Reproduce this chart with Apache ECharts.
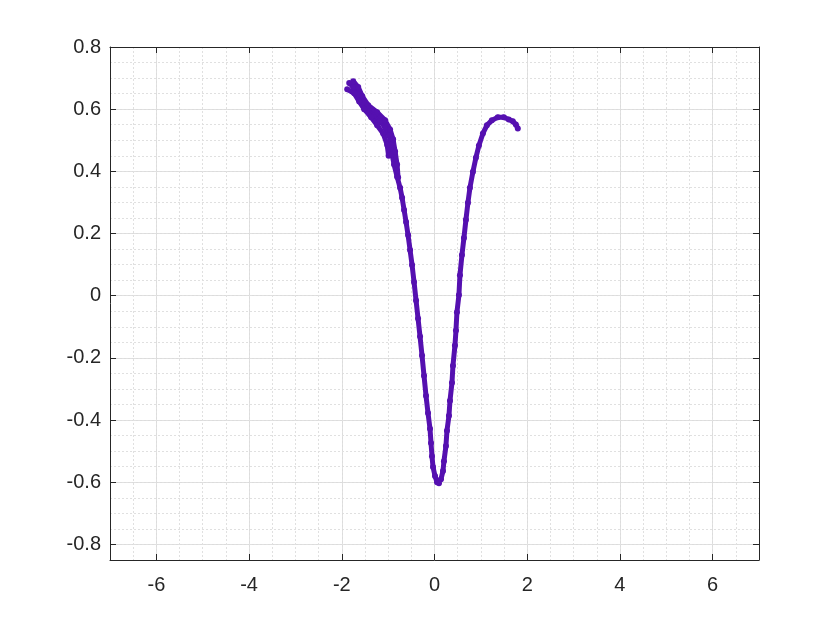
<!DOCTYPE html>
<html>
<head>
<meta charset="utf-8">
<script src="https://cdn.jsdelivr.net/npm/echarts@6/dist/echarts.min.js"></script>
<style>html,body{margin:0;padding:0;background:#fff}#c{width:840px;height:630px}</style>
</head>
<body>
<div id="c"></div>
<script>
// Tick labels
const xTicks = [-6, -4, -2, 0, 2, 4, 6];
const yTicks = [-0.8, -0.6, -0.4, -0.2, 0, 0.2, 0.4, 0.6, 0.8];

// Main curve (centre line)
const curveX = [-1.840,-1.754,-1.646,-1.538,-1.431,-1.302,-1.173,-1.065,-0.979,-0.936,-0.915,-0.872,-0.807,-0.742,-0.699,-0.656,-0.613,-0.570,-0.527,-0.484,-0.441,-0.398,-0.355,-0.312,-0.269,-0.226,-0.183,-0.140,-0.097,-0.075,-0.054,-0.032,0.011,0.054,0.097,
  0.140,0.183,0.204,0.247,0.269,0.312,0.334,0.377,0.398,0.441,0.463,0.484,0.527,0.549,0.592,0.635,0.678,0.721,0.764,0.829,0.893,0.958,1.044,1.130,1.237,1.366,1.495,1.603,1.689,1.754,1.797];
const curveY = [0.684,0.671,0.648,0.622,0.600,0.580,0.561,0.541,0.515,0.486,0.454,0.422,0.383,0.347,0.315,0.276,0.237,0.195,0.147,0.099,0.044,-0.015,-0.073,-0.131,-0.192,-0.257,-0.322,-0.377,-0.428,-0.474,-0.516,-0.551,-0.580,-0.600,-0.603,
  -0.590,-0.564,-0.532,-0.483,-0.434,-0.386,-0.338,-0.280,-0.225,-0.160,-0.112,-0.053,0.002,0.066,0.131,0.186,0.244,0.299,0.347,0.399,0.444,0.483,0.522,0.548,0.564,0.574,0.574,0.567,0.561,0.551,0.538];

// Upper and lower edges of the wide band (upper-left part)
const upperX = [-1.754,-1.646,-1.560,-1.431,-1.237,-1.065,-0.958,-0.893,-0.850,-0.807,-0.785];
const upperY = [0.690,0.671,0.642,0.613,0.590,0.564,0.535,0.503,0.464,0.422,0.380];
const lowerX = [-1.883,-1.732,-1.625,-1.517,-1.366,-1.237,-1.108,-1.022,-0.990];
const lowerY = [0.664,0.651,0.625,0.600,0.574,0.548,0.522,0.486,0.450];

const purple = '#5510b0';
const zip = (a, b) => a.map((v, i) => [v, b[i]]);

const font = '"Liberation Sans", Arial, sans-serif';
const chart = echarts.init(document.getElementById('c'), null, {renderer: 'canvas'});
const grid = {left: 110, right: 81, top: 47, bottom: 70, containLabel: false};

const lineSeries = (data) => ({
  type: 'line', data: data, xAxisIndex: 0, yAxisIndex: 0,
  symbol: 'circle', symbolSize: 6, showSymbol: true,
  lineStyle: {color: purple, width: 5}, itemStyle: {color: purple},
  smooth: false, animation: false, z: 5
});

chart.setOption({
  animation: false,
  grid: grid,
  xAxis: [
    {type: 'value', min: -7, max: 7, position: 'bottom',
     axisLine: {show: true, onZero: false, lineStyle: {color: '#262626', width: 1}},
     axisTick: {show: true, inside: true, length: 6, customValues: xTicks, lineStyle: {color: '#262626'}},
     axisLabel: {customValues: xTicks, color: '#262626', fontSize: 20, fontFamily: font, margin: 15},
     splitLine: {show: true, lineStyle: {color: '#dcdcdc', width: 1}}},
    {type: 'value', min: -7, max: 7, interval: 0.5, position: 'bottom',
     axisLine: {show: false}, axisTick: {show: false}, axisLabel: {show: false},
     splitLine: {show: true, lineStyle: {color: '#e0e0e0', width: 1, type: [2, 2]}}},
    {type: 'value', min: -7, max: 7, position: 'top',
     axisLine: {show: true, onZero: false, lineStyle: {color: '#262626', width: 1}},
     axisTick: {show: true, inside: true, length: 6, customValues: xTicks, lineStyle: {color: '#262626'}},
     axisLabel: {show: false}, splitLine: {show: false}}
  ],
  yAxis: [
    {type: 'value', min: -0.85, max: 0.8, position: 'left',
     axisLine: {show: true, onZero: false, lineStyle: {color: '#262626', width: 1}},
     axisTick: {show: true, inside: true, length: 6, customValues: yTicks, lineStyle: {color: '#262626'}},
     axisLabel: {customValues: yTicks, color: '#262626', fontSize: 20, fontFamily: font, margin: 9,
                 formatter: v => String(Math.round(v * 10) / 10)},
     splitLine: {show: true, lineStyle: {color: '#dcdcdc', width: 1}}},
    {type: 'value', min: -0.85, max: 0.8, interval: 0.05, position: 'left',
     axisLine: {show: false}, axisTick: {show: false}, axisLabel: {show: false},
     splitLine: {show: true, lineStyle: {color: '#e0e0e0', width: 1, type: [2, 2]}}},
    {type: 'value', min: -0.85, max: 0.8, position: 'right',
     axisLine: {show: true, onZero: false, lineStyle: {color: '#262626', width: 1}},
     axisTick: {show: true, inside: true, length: 6, customValues: yTicks, lineStyle: {color: '#262626'}},
     axisLabel: {show: false}, splitLine: {show: false}}
  ],
  series: [
    lineSeries(zip(curveX, curveY)),
    lineSeries(zip(upperX, upperY)),
    lineSeries(zip(lowerX, lowerY))
  ]
});
</script>
</body>
</html>
